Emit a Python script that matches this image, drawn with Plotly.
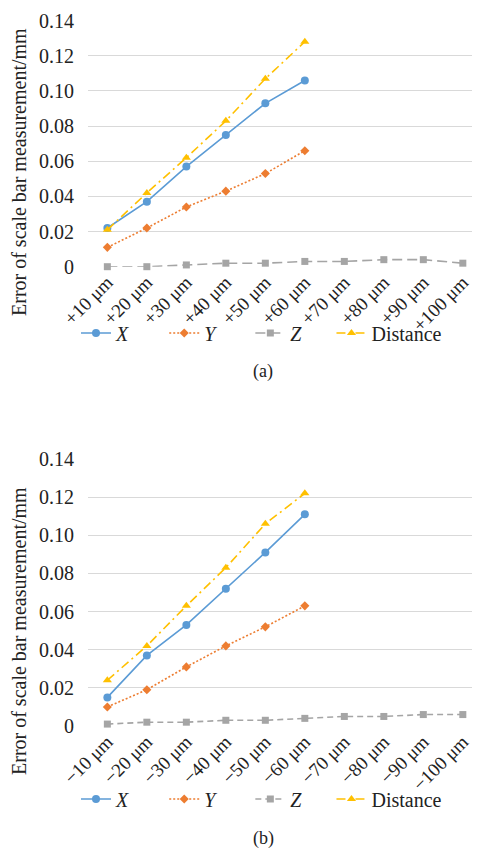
import plotly.graph_objects as go

cats_a = ["+10 μm", "+20 μm", "+30 μm", "+40 μm", "+50 μm",
          "+60 μm", "+70 μm", "+80 μm", "+90 μm", "+100 μm"]
cats_b = ["−10 μm", "−20 μm", "−30 μm", "−40 μm", "−50 μm",
          "−60 μm", "−70 μm", "−80 μm", "−90 μm", "−100 μm"]

x_a = [0.022, 0.037, 0.057, 0.075, 0.093, 0.106]
y_a = [0.011, 0.022, 0.034, 0.043, 0.053, 0.066]
z_a = [0.000, 0.000, 0.001, 0.002, 0.002, 0.003, 0.003, 0.004, 0.004, 0.002]
d_a = [0.021, 0.042, 0.062, 0.083, 0.107, 0.128]

x_b = [0.015, 0.037, 0.053, 0.072, 0.091, 0.111]
y_b = [0.010, 0.019, 0.031, 0.042, 0.052, 0.063]
z_b = [0.001, 0.002, 0.002, 0.003, 0.003, 0.004, 0.005, 0.005, 0.006, 0.006]
d_b = [0.024, 0.042, 0.063, 0.083, 0.106, 0.122]

y_ticks = [0, 0.02, 0.04, 0.06, 0.08, 0.10, 0.12, 0.14]
y_ticktext = ["0", "0.02", "0.04", "0.06", "0.08", "0.10", "0.12", "0.14"]

NB = "\u00a0"
series_names = ["<i>X</i>" + NB * 6, "<i>Y</i>" + NB * 6, "<i>Z</i>" + NB * 5, "Distance"]

FONT = "Liberation Serif"
# page has an 8px body margin; figure is sized to fit inside the window
OFF = 8
W, H = 472, 841

styles_a = [
    dict(color="#5B9BD5", dash="solid", symbol="circle", size=8),
    dict(color="#ED7D31", dash="2px,2px", symbol="diamond", size=7),
    dict(color="#A5A5A5", dash="10px,5px", symbol="square", size=7),
    dict(color="#FFC000", dash="9px,4px,2px,4px", symbol="triangle-up", size=8),
]
styles_b = [
    dict(color="#5B9BD5", dash="solid", symbol="circle", size=8),
    dict(color="#ED7D31", dash="2px,2px", symbol="diamond", size=7),
    dict(color="#A5A5A5", dash="6px,4px", symbol="square", size=7),
    dict(color="#FFC000", dash="9px,4px,2px,4px", symbol="triangle-up", size=8),
]

fig = go.Figure()

def add_group(cats, series, styles, xa, ya, legend):
    for name, vals, st in zip(series_names, series, styles):
        fig.add_trace(go.Scatter(
            x=cats[:len(vals)], y=vals, name=name, mode="lines+markers",
            xaxis=xa, yaxis=ya, legend=legend, cliponaxis=False,
            line=dict(color=st["color"], dash=st["dash"], width=1.6),
            marker=dict(color=st["color"], symbol=st["symbol"], size=st["size"]),
        ))

add_group(cats_a, [x_a, y_a, z_a, d_a], styles_a, "x", "y", "legend")
add_group(cats_b, [x_b, y_b, z_b, d_b], styles_b, "x2", "y2", "legend2")

def px_y(p):
    return 1 - (p - OFF) / H

def px_x(p):
    return (p - OFF) / W

xdom = [px_x(88), 1.0]
xcommon = dict(type="category", range=[-0.49, 9.435], showgrid=False, automargin=False,
               showline=False, zeroline=False, tickangle=-45, ticks="",
               tickfont=dict(family=FONT, size=19, color="#222"))
ycommon = dict(range=[0, 0.14], tickvals=y_ticks, ticktext=y_ticktext, automargin=False,
               showgrid=True, gridcolor="#D9D9D9", gridwidth=1, zeroline=False,
               showline=False, ticks="outside", ticklen=9, tickcolor="rgba(0,0,0,0)",
               tickfont=dict(family=FONT, size=20, color="#222"))

legend_common = dict(orientation="h", xanchor="left", yanchor="middle",
                     font=dict(family=FONT, size=20, color="#222"),
                     bgcolor="rgba(0,0,0,0)")

fig.update_layout(
    width=W, height=H,
    margin=dict(l=0, r=0, t=0, b=0, autoexpand=False),
    paper_bgcolor="white", plot_bgcolor="white",
    xaxis=dict(domain=xdom, anchor="y", categoryorder="array", categoryarray=cats_a, **xcommon),
    yaxis=dict(domain=[px_y(266.7), px_y(20.7)], anchor="x", **ycommon),
    xaxis2=dict(domain=xdom, anchor="y2", categoryorder="array", categoryarray=cats_b, **xcommon),
    yaxis2=dict(domain=[px_y(726), px_y(459)], anchor="x2", **ycommon),
    legend=dict(x=px_x(76), y=px_y(333), **legend_common),
    legend2=dict(x=px_x(76), y=px_y(799), **legend_common),
    showlegend=True,
    annotations=[
        dict(text="Error of scale bar measurement/mm", textangle=-90,
             x=px_x(19), y=px_y(172), xref="paper", yref="paper",
             xanchor="center", yanchor="middle",
             showarrow=False, font=dict(family=FONT, size=20, color="#222")),
        dict(text="Error of scale bar measurement/mm", textangle=-90,
             x=px_x(19), y=px_y(631), xref="paper", yref="paper",
             xanchor="center", yanchor="middle",
             showarrow=False, font=dict(family=FONT, size=20, color="#222")),
        dict(text="(a)", x=px_x(263), y=px_y(372), xref="paper", yref="paper",
             xanchor="center", yanchor="middle",
             showarrow=False, font=dict(family=FONT, size=18, color="#222")),
        dict(text="(b)", x=px_x(263), y=px_y(838), xref="paper", yref="paper",
             xanchor="center", yanchor="middle",
             showarrow=False, font=dict(family=FONT, size=18, color="#222")),
    ],
)

fig.write_html("out.html")
